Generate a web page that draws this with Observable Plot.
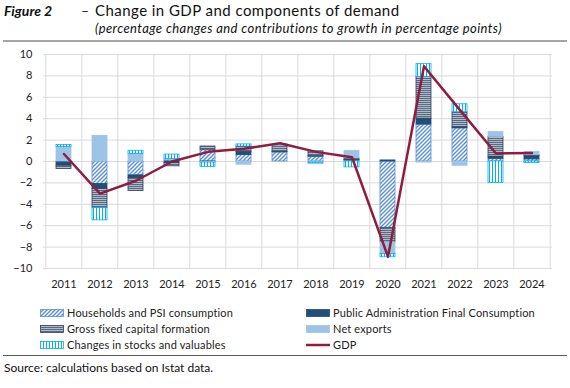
<!DOCTYPE html>
<html><head><meta charset="utf-8">
<script src="https://cdn.jsdelivr.net/npm/d3@7"></script>
<script src="https://cdn.jsdelivr.net/npm/@observablehq/plot@0.6"></script>
<style>
body{margin:0;background:#fff;font-family:Lato,"Open Sans",sans-serif;color:#111;}
#wrap{position:relative;width:570px;height:388px;overflow:hidden;}
.abs{position:absolute;white-space:nowrap;}
#chart{position:absolute;left:0;top:44px;}
.lg{position:absolute;font-size:11px;line-height:11px;white-space:nowrap;color:#222;letter-spacing:0.15px;}
.lg svg{position:absolute;left:0;top:2px;}
.lg span{position:absolute;left:27px;top:0;}
</style></head><body>
<svg width="0" height="0" style="position:absolute">
<defs>
<pattern id="hh" patternUnits="userSpaceOnUse" width="4" height="4"><rect width="4" height="4" fill="#fff"/><path d="M-1,1 l2,-2 M0,4 l4,-4 M3,5 l2,-2" stroke="#5a8fd0" stroke-width="1.4"/></pattern>
<pattern id="gf" patternUnits="userSpaceOnUse" width="4" height="2"><rect width="4" height="2" fill="#aebbcc"/><rect y="0" width="4" height="0.8" fill="#44546a"/></pattern>
<pattern id="st" patternUnits="userSpaceOnUse" width="3" height="4"><rect width="3" height="4" fill="#fff"/><rect x="0" width="1" height="4" fill="#00b0f0"/></pattern>
</defs></svg>
<div id="wrap">
  <div class="abs" style="left:4px;top:4px;font-size:14px;line-height:14px;font-weight:bold;font-style:italic;">Figure 2</div>
  <div class="abs" style="left:81px;top:4px;font-size:14px;line-height:14px;">–</div>
  <div class="abs" style="left:95px;top:3px;font-size:15px;line-height:15px;letter-spacing:0.45px;">Change in GDP and components of demand</div>
  <div class="abs" style="left:95px;top:22px;font-size:13px;line-height:13px;font-style:italic;letter-spacing:0.42px;">(percentage changes and contributions to growth in percentage points)</div>
  <div class="abs" style="left:3px;top:40px;width:564px;height:2px;background:#a6a6a6;"></div>
  <div id="chart"></div>
  <div id="legend"></div>
  <div class="abs" style="left:3px;top:355px;width:564px;height:1px;background:#595959;"></div>
  <div class="abs" style="left:4px;top:362px;font-size:12px;line-height:12px;">Source: calculations based on Istat data.</div>
</div>
<script>
const years = ["2011","2012","2013","2014","2015","2016","2017","2018","2019","2020","2021","2022","2023","2024"];
const seriesNames = ["Households and PSI consumption","Public Administration Final Consumption","Gross fixed capital formation","Net exports","Changes in stocks and valuables"];
const households = [0.0,-2.1,-1.3,0.15,1.1,0.6,0.85,0.45,0.1,-6.2,3.45,3.1,0.25,0.2];
const publicAdmin = [-0.4,-0.45,-0.25,-0.15,-0.05,0.3,0.05,0.05,0.05,0.1,0.55,0.1,0.2,0.3];
const gfcf = [-0.3,-1.8,-1.2,-0.3,0.3,0.5,0.55,0.45,0.15,-1.35,3.9,1.4,1.85,0.1];
const netExports = [1.35,2.4,0.7,0.1,-0.05,-0.3,0.2,-0.1,0.7,-1.1,-0.1,-0.4,0.45,0.3];
const stocks = [0.2,-1.15,0.3,0.4,-0.4,0.2,0.0,-0.1,-0.55,-0.3,1.2,0.75,-2.0,-0.15];
const gdp = [0.7,-3.0,-1.8,0.0,0.9,1.2,1.7,0.9,0.4,-8.9,8.9,4.8,0.75,0.8];
const yTicks = [-10,-8,-6,-4,-2,0,2,4,6,8,10];

const seriesValues = [households, publicAdmin, gfcf, netExports, stocks];
const fills = ["url(#hh)","#1f4e79","url(#gf)","#9dc3e6","url(#st)"];
const strokes = ["#5a8fd0","#1f4e79","#2f3f5c","#9dc3e6","#00b0f0"];
const strokeOf = Object.fromEntries(seriesNames.map((n,i)=>[n,strokes[i]]));

const rows = [];
seriesNames.forEach((name,i)=>years.forEach((yr,j)=>rows.push({year:yr, series:name, value:seriesValues[i][j]})));
const gdpRows = years.map((yr,j)=>({year:yr, gdp:gdp[j]}));

const W=570, ML=43, MR=18;
const step=(W-ML-MR)/years.length;

const chart = Plot.plot({
  width:W, height:251, marginTop:10, marginBottom:27, marginLeft:ML, marginRight:MR,
  style:{fontFamily:"Lato, sans-serif", fontSize:"11px", color:"#222", background:"transparent"},
  x:{type:"band", domain:years, paddingInner:0.58, paddingOuter:0.29, label:null},
  y:{domain:[-10,10], label:null},
  color:{domain:seriesNames, range:fills},
  marks:[
    Plot.ruleY(yTicks, {stroke:"#d9d9d9", strokeWidth:1}),
    Plot.ruleX(years, {x:d=>d, dx:-step/2, stroke:"#d9d9d9", strokeWidth:1}),
    Plot.ruleX([years[years.length-1]], {x:d=>d, dx:step/2, stroke:"#d9d9d9", strokeWidth:1}),
    Plot.barY(rows, {x:"year", y:"value", fill:"series", stroke:d=>strokeOf[d.series], strokeWidth:0.8, order:seriesNames}),
    Plot.lineY(gdpRows, {x:"year", y:"gdp", stroke:"#8f1d3f", strokeWidth:2.5}),
    Plot.axisX({tickSize:0, tickPadding:12, fill:"#222"}),
    Plot.axisY({ticks:yTicks, tickSize:0, tickPadding:11, fill:"#222"})
  ]
});
document.getElementById("chart").appendChild(chart);

// legend
const legendItems = [
  {name:seriesNames[0], x:40, y:307, kind:"rect", i:0},
  {name:seriesNames[2], x:40, y:323, kind:"rect", i:2},
  {name:seriesNames[4], x:40, y:339, kind:"rect", i:4},
  {name:seriesNames[1], x:306, y:307, kind:"rect", i:1},
  {name:seriesNames[3], x:306, y:323, kind:"rect", i:3},
  {name:"GDP", x:306, y:339, kind:"line"}
];
const lg = document.getElementById("legend");
for (const it of legendItems) {
  const d = document.createElement("div");
  d.className="lg"; d.style.left=it.x+"px"; d.style.top=it.y+"px";
  let sw;
  if (it.kind==="rect") sw = `<svg width="24" height="8"><rect x="0.5" y="0.5" width="23" height="7" fill="${fills[it.i]}" stroke="${strokes[it.i]}" stroke-width="0.8"/></svg>`;
  else sw = `<svg width="24" height="8"><line x1="0" x2="24" y1="4" y2="4" stroke="#8f1d3f" stroke-width="2.5"/></svg>`;
  d.innerHTML = sw + `<span>${it.name}</span>`;
  lg.appendChild(d);
}
</script>
</body></html>
